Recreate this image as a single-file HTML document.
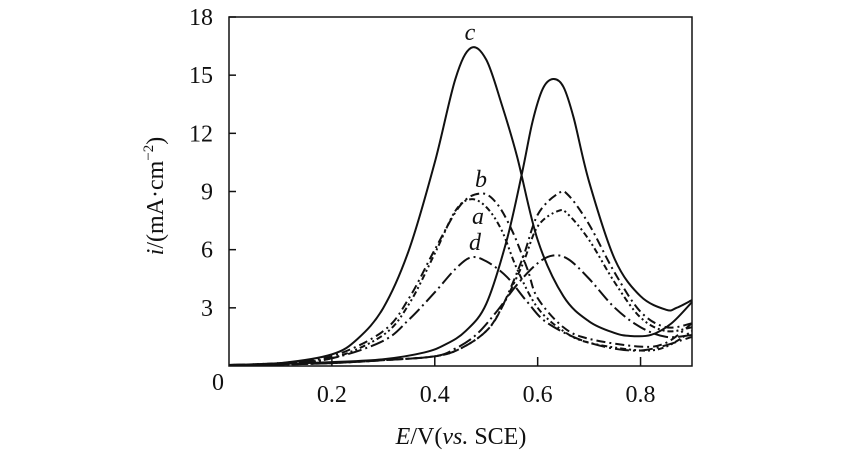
<!DOCTYPE html>
<html><head><meta charset="utf-8"><style>
body{margin:0;background:#fff}
svg text{font-family:"Liberation Serif",serif;fill:#111}
</style></head><body>
<svg id="chart" width="850" height="462" viewBox="0 0 850 462" xmlns="http://www.w3.org/2000/svg" style="position:absolute;left:0;top:0"></svg>
<script>
const xTicks=[0.2,0.4,0.6,0.8];
const xTickLabels=["0.2","0.4","0.6","0.8"];
const yTicks=[3,6,9,12,15,18];
const yTickLabels=["3","6","9","12","15","18"];
const cFwdE=[0,0.1,0.2,0.25,0.3,0.35,0.4,0.44,0.47,0.5,0.53,0.56,0.6,0.65,0.7,0.75,0.78,0.82,0.86,0.9];
const cFwdI=[0.05,0.15,0.6,1.4,3.0,6.0,10.5,14.8,16.4,15.8,13.5,10.8,6.5,3.6,2.3,1.7,1.55,1.6,2.2,3.3];
const cRevE=[0.9,0.87,0.85,0.8,0.75,0.7,0.67,0.65,0.63,0.61,0.59,0.57,0.54,0.5,0.46,0.42,0.38,0.3,0.2,0.1,0];
const cRevI=[3.4,3.0,2.9,3.6,5.5,9.5,12.8,14.4,14.8,14.3,12.6,10.0,6.5,3.2,1.8,1.1,0.7,0.35,0.2,0.1,0.05];
const bFwdE=[0,0.1,0.2,0.3,0.35,0.4,0.45,0.49,0.52,0.55,0.58,0.6,0.65,0.7,0.8,0.85,0.9];
const bFwdI=[0.05,0.15,0.5,1.8,3.5,6.0,8.3,8.9,8.4,7.0,5.0,3.5,2.0,1.4,1.0,1.2,2.2];
const bRevE=[0.9,0.85,0.8,0.75,0.7,0.66,0.64,0.6,0.57,0.53,0.5,0.45,0.4,0.3,0.2,0.1,0];
const bRevI=[2.2,2.0,2.8,4.8,7.3,8.8,8.9,7.8,5.5,3.0,1.8,0.9,0.5,0.3,0.15,0.08,0.05];
const aFwdE=[0,0.1,0.2,0.3,0.35,0.4,0.44,0.47,0.5,0.53,0.56,0.6,0.65,0.7,0.8,0.85,0.9];
const aFwdI=[0.05,0.15,0.4,1.6,3.2,5.8,8.0,8.6,8.2,7.0,5.0,3.0,1.8,1.2,0.8,1.0,1.8];
const aRevE=[0.9,0.85,0.8,0.75,0.7,0.66,0.64,0.6,0.57,0.53,0.5,0.45,0.4,0.3,0.2,0.1,0];
const aRevI=[2.0,1.8,2.5,4.3,6.5,7.8,8.0,7.2,5.2,3.0,1.8,0.9,0.5,0.3,0.15,0.08,0.05];
const dFwdE=[0,0.1,0.2,0.3,0.35,0.4,0.44,0.47,0.5,0.54,0.58,0.62,0.7,0.8,0.9];
const dFwdI=[0.05,0.15,0.4,1.3,2.4,3.8,5.0,5.6,5.4,4.6,3.3,2.2,1.2,0.8,1.5];
const dRevE=[0.9,0.85,0.8,0.75,0.7,0.66,0.63,0.6,0.56,0.52,0.48,0.44,0.4,0.3,0.2,0.1,0];
const dRevI=[1.6,1.5,2.0,3.0,4.5,5.5,5.7,5.3,4.2,2.8,1.6,0.9,0.5,0.3,0.15,0.08,0.05];

const L=229,R=692,T=17,B=366,xMax=0.9,yMax=18;
const X=v=>L+(R-L)*v/xMax, Y=v=>B-(B-T)*v/yMax;
const svg=document.getElementById('chart');
const NS='http://www.w3.org/2000/svg';
function mk(tag,attrs,parent){const e=document.createElementNS(NS,tag);for(const k in attrs)e.setAttribute(k,attrs[k]);(parent||svg).appendChild(e);return e;}
function pathD(E,I){const p=E.map((e,i)=>[X(e),Y(I[i])]);let d='M'+p[0][0]+','+p[0][1];
for(let i=0;i<p.length-1;i++){const p0=p[i-1]||p[i],p1=p[i],p2=p[i+1],p3=p[i+2]||p2;
d+=' C'+(p1[0]+(p2[0]-p0[0])/6)+','+(p1[1]+(p2[1]-p0[1])/6)+' '+(p2[0]-(p3[0]-p1[0])/6)+','+(p2[1]-(p3[1]-p1[1])/6)+' '+p2[0]+','+p2[1];}return d;}
const series=[
 ['curve-c-forward',cFwdE,cFwdI,''],['curve-c-reverse',cRevE,cRevI,''],
 ['curve-b-forward',bFwdE,bFwdI,'9,4,2,4'],['curve-b-reverse',bRevE,bRevI,'9,4,2,4'],
 ['curve-a-forward',aFwdE,aFwdI,'6,3,2,3,2,3'],['curve-a-reverse',aRevE,aRevI,'6,3,2,3,2,3'],
 ['curve-d-forward',dFwdE,dFwdI,'14,4,2,4'],['curve-d-reverse',dRevE,dRevI,'14,4,2,4']];
series.forEach(s=>{const p=mk('path',{d:pathD(s[1],s[2]),fill:'none',stroke:'#111','stroke-width':2,'stroke-dasharray':s[3]});

});
const frame=mk('rect',{x:L,y:T,width:R-L,height:B-T,fill:'none',stroke:'#111','stroke-width':1.5});


xTicks.forEach((v,i)=>{const t=mk('line',{x1:X(v),x2:X(v),y1:B,y2:B-9,stroke:'#111','stroke-width':1.5});


const l=mk('text',{x:X(v),y:B+36,'text-anchor':'middle','font-size':24});l.textContent=xTickLabels[i];

});
yTicks.forEach((v,i)=>{const t=mk('line',{x1:L,x2:L+7,y1:Y(v),y2:Y(v),stroke:'#111','stroke-width':1.5});


const l=mk('text',{x:L-16,y:Y(v)+8,'text-anchor':'end','font-size':24});l.textContent=yTickLabels[i];

});
</script>
<svg style="position:absolute;left:0;top:0" width="850" height="462">
<text x="218" y="390" text-anchor="middle" font-size="24">0</text>
<text x="470" y="40" font-size="24" font-style="italic" text-anchor="middle">c</text>
<text x="481" y="187" font-size="24" font-style="italic" text-anchor="middle">b</text>
<text x="478" y="224" font-size="24" font-style="italic" text-anchor="middle">a</text>
<text x="475" y="250" font-size="24" font-style="italic" text-anchor="middle">d</text>
<text x="461" y="444" text-anchor="middle" font-size="24"><tspan font-style="italic">E</tspan>/V(<tspan font-style="italic">vs.</tspan> SCE)</text>
<text transform="translate(163,196) rotate(-90)" text-anchor="middle" font-size="24"><tspan font-style="italic">i</tspan>/(mA·cm<tspan font-size="15" dy="-10">−2</tspan><tspan dy="10">)</tspan></text>
</svg>
</body></html>
